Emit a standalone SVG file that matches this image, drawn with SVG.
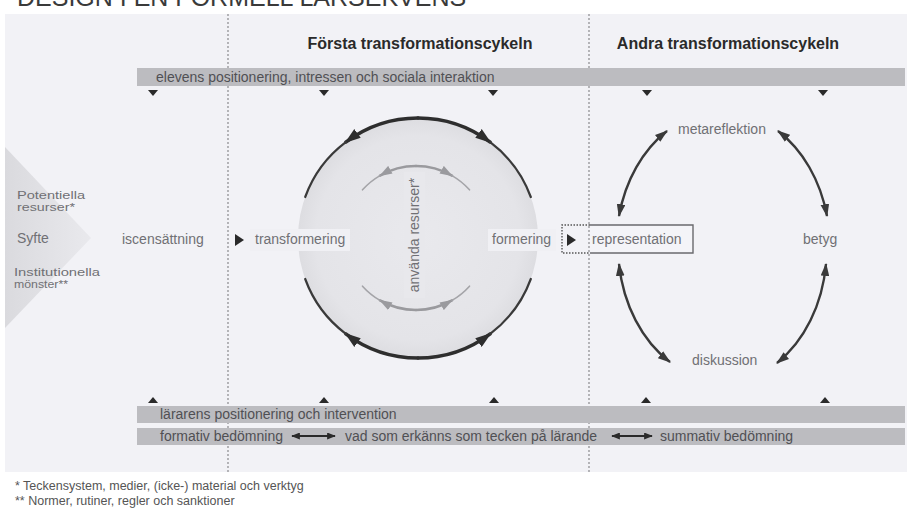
<svg xmlns="http://www.w3.org/2000/svg" width="913" height="510" viewBox="0 0 913 510">
<defs>
<style>
.lbl{font-family:"Liberation Sans",Arial,sans-serif;font-size:14px;fill:#707074}
.side{font-family:"Liberation Sans",Arial,sans-serif;font-size:10.5px;fill:#707074}
.bar{fill:#bcbcc0}
.bartxt{font-family:"Liberation Sans",Arial,sans-serif;font-size:14px;fill:#505054}
.hdr{font-family:"Liberation Sans",Arial,sans-serif;font-size:16px;font-weight:bold;fill:#2a2a2a}
.foot{font-family:"Liberation Sans",Arial,sans-serif;font-size:12.5px;fill:#555}
.dash{stroke:#8a8a8e;stroke-width:1.2;stroke-dasharray:2 2;fill:none}
.tri{fill:#2a2a2a}
.dark{stroke:#2e2e2e;stroke-width:3.5;fill:none;stroke-linecap:round}
.darkthin{stroke:#3a3a3a;stroke-width:2.2;fill:none;stroke-linecap:round}
.gray{stroke:#9a9a9e;stroke-width:2.6;fill:none;stroke-linecap:round}
.graythin{stroke:#a4a4a8;stroke-width:1.6;fill:none;stroke-linecap:round}
.ell{stroke:#3a3a3a;stroke-width:2.4;fill:none}
</style>
<marker id="hd" viewBox="0 0 12 8" refX="11" refY="4" markerWidth="16" markerHeight="11" markerUnits="userSpaceOnUse" orient="auto"><path d="M0,0 L12,4 L0,8 z" fill="#2e2e2e"/></marker>
<marker id="hg" viewBox="0 0 12 8" refX="11" refY="4" markerWidth="13" markerHeight="9" markerUnits="userSpaceOnUse" orient="auto"><path d="M0,0 L12,4 L0,8 z" fill="#9a9a9e"/></marker>
<marker id="he" viewBox="0 0 12 8" refX="11" refY="4" markerWidth="13" markerHeight="9" markerUnits="userSpaceOnUse" orient="auto-start-reverse"><path d="M0,0 L12,4 L0,8 z" fill="#3a3a3a"/></marker>
<marker id="hb" viewBox="0 0 10 8" refX="9" refY="4" markerWidth="9" markerHeight="7" markerUnits="userSpaceOnUse" orient="auto-start-reverse"><path d="M0,0 L10,4 L0,8 z" fill="#2a2a2a"/></marker>
<radialGradient id="cg" cx="0.5" cy="0.5" r="0.5">
<stop offset="0" stop-color="#e9e9ed"/>
<stop offset="0.85" stop-color="#e4e4e8"/>
<stop offset="1" stop-color="#dddde1"/>
</radialGradient>
<linearGradient id="chev" x1="0" y1="0" x2="1" y2="0">
<stop offset="0" stop-color="#dadade"/>
<stop offset="1" stop-color="#e9e9ed"/>
</linearGradient>
</defs>

<rect x="0" y="0" width="913" height="510" fill="#ffffff"/>
<g id="title"><text x="17" y="6" font-family="Liberation Sans, Arial, sans-serif" font-size="25" fill="#3a3a3a">DESIGN I EN FORMELL LÄRSEKVENS</text></g>
<rect id="panel" x="5" y="14" width="902" height="458" fill="#f2f2f6"/>

<g id="dividers">
<line class="dash" x1="228" y1="14" x2="228" y2="472"/>
<line class="dash" x1="589" y1="14" x2="589" y2="472"/>
</g>

<g id="chevron">
<polygon points="5,147 91,238 5,328" fill="url(#chev)"/>
<text class="side" x="17" y="199" textLength="68" lengthAdjust="spacingAndGlyphs">Potentiella</text>
<text class="side" x="17" y="211" textLength="58" lengthAdjust="spacingAndGlyphs">resurser*</text>
<text class="lbl" x="17" y="243" font-size="13">Syfte</text>
<text class="side" x="14" y="276" textLength="86" lengthAdjust="spacingAndGlyphs">Institutionella</text>
<text class="side" x="14" y="288" textLength="54" lengthAdjust="spacingAndGlyphs">mönster**</text>
</g>

<g id="header-1"><text class="hdr" x="420" y="49" text-anchor="middle">Första transformationscykeln</text></g>
<g id="header-2"><text class="hdr" x="728" y="49" text-anchor="middle">Andra transformationscykeln</text></g>

<g id="bar-elever">
<rect class="bar" x="137" y="68" width="768" height="18"/>
<text class="bartxt" x="156" y="82">elevens positionering, intressen och sociala interaktion</text>
</g>
<g id="bar-larare">
<rect class="bar" x="137" y="406" width="768" height="17"/>
<text class="bartxt" x="160" y="419">lärarens positionering och intervention</text>
</g>
<g id="bar-bedomning">
<rect class="bar" x="137" y="428" width="768" height="17"/>
<text class="bartxt" x="160" y="441">formativ bedömning</text>
<text class="bartxt" x="345" y="441">vad som erkänns som tecken på lärande</text>
<text class="bartxt" x="660" y="441">summativ bedömning</text>
</g>

<g id="cycle-1">
<circle cx="418" cy="238" r="120" fill="url(#cg)"/>
<rect x="404" y="172" width="21" height="126" fill="#e8e8ec"/>
</g>

<g id="connectors">
<polygon class="tri" points="148,90 158,90 153,96"/>
<polygon class="tri" points="319,90 329,90 324,96"/>
<polygon class="tri" points="488,90 498,90 493,96"/>
<polygon class="tri" points="642,90 652,90 647,96"/>
<polygon class="tri" points="818,90 828,90 823,96"/>
<polygon class="tri" points="148,403 158,403 153,397"/>
<polygon class="tri" points="319,403 329,403 324,397"/>
<polygon class="tri" points="489,403 499,403 494,397"/>
<polygon class="tri" points="641,403 651,403 646,397"/>
<polygon class="tri" points="820,403 830,403 825,397"/>
<polygon class="tri" points="235,234 244,240 235,246"/>
<polygon class="tri" points="567,234 576,240 567,246"/>
<path class="dark" d="M418,118 A120,120 0 0 0 345.8,142.2" marker-end="url(#hd)"/>
<path class="darkthin" d="M345.8,142.2 A120,120 0 0 0 305.2,197"/>
<path class="dark" d="M418,118 A120,120 0 0 1 490.2,142.2" marker-end="url(#hd)"/>
<path class="darkthin" d="M490.2,142.2 A120,120 0 0 1 530.8,197"/>
<path class="dark" d="M418,358 A120,120 0 0 1 345.8,333.8" marker-end="url(#hd)"/>
<path class="darkthin" d="M345.8,333.8 A120,120 0 0 1 305.2,279"/>
<path class="dark" d="M418,358 A120,120 0 0 0 490.2,333.8" marker-end="url(#hd)"/>
<path class="darkthin" d="M490.2,333.8 A120,120 0 0 0 530.8,279"/>
<path class="gray" d="M416,166 A72,72 0 0 0 380,175.6" marker-end="url(#hg)"/>
<path class="graythin" d="M380,175.6 A72,72 0 0 0 362.5,189.8"/>
<path class="gray" d="M416,166 A72,72 0 0 1 452,175.6" marker-end="url(#hg)"/>
<path class="graythin" d="M452,175.6 A72,72 0 0 1 469.5,189.8"/>
<path class="gray" d="M416,310 A72,72 0 0 1 380,300.4" marker-end="url(#hg)"/>
<path class="graythin" d="M380,300.4 A72,72 0 0 1 362.5,286.2"/>
<path class="gray" d="M416,310 A72,72 0 0 0 452,300.4" marker-end="url(#hg)"/>
<path class="graythin" d="M452,300.4 A72,72 0 0 0 469.5,286.2"/>
<path class="ell" d="M667,131 A107,135 0 0 0 619,216" marker-start="url(#he)" marker-end="url(#he)"/>
<path class="ell" d="M778,131 A107,135 0 0 1 827,216" marker-start="url(#he)" marker-end="url(#he)"/>
<path class="ell" d="M619,264 A107,135 0 0 0 670,362" marker-start="url(#he)" marker-end="url(#he)"/>
<path class="ell" d="M826,264 A107,135 0 0 1 777,363" marker-start="url(#he)" marker-end="url(#he)"/>
<line x1="292" y1="436" x2="335" y2="436" stroke="#2a2a2a" stroke-width="2" marker-start="url(#hb)" marker-end="url(#hb)"/>
<line x1="612" y1="436" x2="652" y2="436" stroke="#2a2a2a" stroke-width="2" marker-start="url(#hb)" marker-end="url(#hb)"/>
</g>

<g id="resurser"><text class="lbl" transform="translate(414,235) rotate(-90)" x="0" y="5" text-anchor="middle">använda resurser*</text></g>

<g id="iscensattning"><text class="lbl" x="122" y="244">iscensättning</text></g>
<g id="transformering">
<rect x="250" y="229" width="100" height="22" fill="#f0f0f4"/>
<text class="lbl" x="255" y="244">transformering</text>
</g>
<g id="formering">
<rect x="488" y="229" width="68" height="22" fill="#f0f0f4"/>
<text class="lbl" x="492" y="244">formering</text>
</g>
<g id="representation">
<rect x="590" y="225" width="103" height="28" fill="#f4f4f8"/>
<path d="M590,225 H693 V253 H590" fill="none" stroke="#6a6a6e" stroke-width="1.4"/>
<path d="M590,225 H562 V253 H590" fill="none" stroke="#555" stroke-width="1.4" stroke-dasharray="1.5 1.5"/>
<text class="lbl" x="592" y="244">representation</text>
</g>
<g id="metareflektion"><text class="lbl" x="678" y="134">metareflektion</text></g>
<g id="betyg"><text class="lbl" x="803" y="244">betyg</text></g>
<g id="diskussion"><text class="lbl" x="692" y="365">diskussion</text></g>

<g id="footnotes">
<text class="foot" x="15" y="490">*  Teckensystem, medier, (icke-) material och verktyg</text>
<text class="foot" x="15" y="505">** Normer, rutiner, regler och sanktioner</text>
</g>
</svg>
